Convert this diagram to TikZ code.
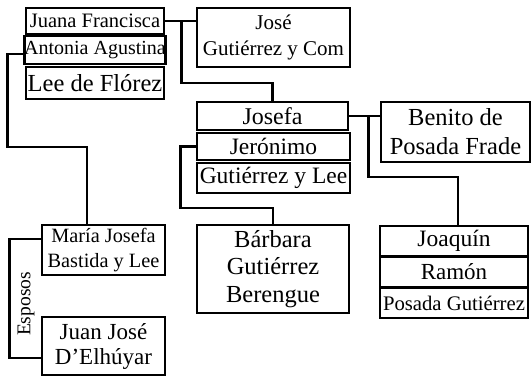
\documentclass[tikz,border=0pt]{standalone}
\usepackage{fontspec}
\setmainfont{Liberation Serif}
\newcommand{\fs}[2]{\fontsize{#1}{#2}\selectfont}
\tikzset{
  box/.style={draw, line width=2.7pt, inner sep=0pt, align=center, anchor=center},
  conn/.style={line width=2.7pt, line join=miter},
}
\begin{document}
\begin{tikzpicture}[x=1pt, y=-1pt]
\useasboundingbox[fill=white] (0,0) rectangle (531,377);
% left top stack
\node[box, minimum width=138pt, minimum height=26pt, font=\fs{20.5}{24}] (juana) at (95,21) {Juana Francisca};
\node[box, minimum width=138pt, minimum height=28pt, font=\fs{20}{24}] (antonia) at (95,50) {Antonia Agustina};
\node[box, minimum width=138pt, minimum height=32pt, font=\fs{24.5}{28}] (lee) at (95,83) {Lee de Flórez};
% José
\node[box, minimum width=153pt, minimum height=59pt, font=\fs{21}{26}] (jose) at (273.5,37.5) {José\\Gutiérrez y Com};
% Josefa stack
\node[box, minimum width=151pt, minimum height=28pt, font=\fs{24}{26}] (josefa) at (272.5,116) {Josefa};
\node[box, minimum width=153pt, minimum height=27pt, font=\fs{23.5}{26}] (jeronimo) at (273.5,146.5) {Jerónimo};
\node[box, minimum width=153pt, minimum height=30pt, font=\fs{23.5}{27}] (gutlee) at (273.5,178) {Gutiérrez y Lee};
% Benito
\node[box, minimum width=149pt, minimum height=60pt, font=\fs{24.5}{29}] (benito) at (455.5,132) {Benito de\\Posada Frade};
% Joaquín stack
\node[box, minimum width=148pt, minimum height=30pt, font=\fs{23.5}{27}] (joaquin) at (454,241) {Joaquín};
\node[box, minimum width=148pt, minimum height=31pt, font=\fs{23}{27}] (ramon) at (454,272) {Ramón};
\node[box, minimum width=148pt, minimum height=30pt, font=\fs{20.7}{24}] (posada) at (454,303) {Posada Gutiérrez};
% Bárbara
\node[box, minimum width=152pt, minimum height=88pt, font=\fs{24.5}{27.5}] (barbara) at (273,269) {Bárbara\\Gutiérrez\\Berengue};
% María Josefa
\node[box, minimum width=123pt, minimum height=50pt, font=\fs{20.3}{25}] (maria) at (103.5,250) {María Josefa\\Bastida y Lee};
% Juan José
\node[box, minimum width=123pt, minimum height=58pt, font=\fs{23}{25}] (juanjose) at (103.5,346) {Juan José\\D’Elhúyar};
% label
\node[rotate=90, inner sep=0pt, font=\fs{19.5}{23}] (esposos) at (26,304) {Esposos};
% connectors
\draw[conn] (juana.east) -- (juana.east -| jose.west);
\coordinate (j1) at ([xshift=16pt]juana.east);
\draw[conn] (j1) -- ++(0,62) -| (josefa.north);
\draw[conn] ([yshift=-4pt]antonia.west) -- ++(-15,0) -- ++(0,93) -| ([xshift=-16.5pt]maria.north);
\draw[conn] (josefa.east) -- (josefa.east -| benito.west);
\coordinate (j2) at ([xshift=19pt]josefa.east);
\draw[conn] (j2) -- ++(0,61) -| ([xshift=4pt]joaquin.north);
\draw[conn] (jeronimo.west) -- ++(-15,0) -- ++(0,61.5) -| (barbara.north);
\draw[conn] ([yshift=11pt]maria.west) -- ++(-31,0) -- ++(0,119) -- ([yshift=-12pt]juanjose.west);
\end{tikzpicture}
\end{document}
